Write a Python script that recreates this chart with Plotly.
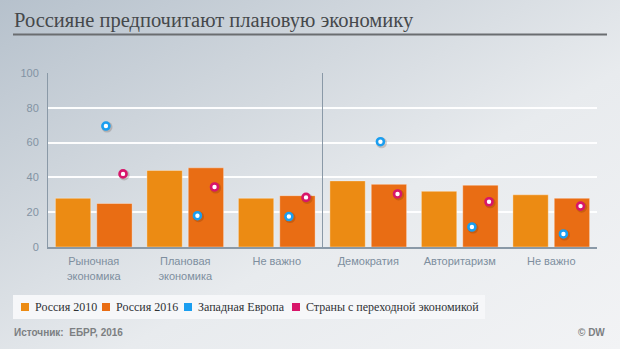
import base64
import plotly.graph_objects as go

# ---- data ----
categories = ["Рыночная<br>экономика", "Плановая<br>экономика", "Не важно",
              "Демократия", "Авторитаризм", "Не важно"]
russia_2010 = [28, 44, 28, 38, 32, 30]
russia_2016 = [25, 45.5, 29.5, 36, 35.5, 28]
west_europe = [69.5, 18, 17.5, 60.5, 11.5, 7.5]
transition = [42, 34.5, 28.5, 30.5, 26, 23.5]
y_ticks = [0, 20, 40, 60, 80, 100]
series_names = ["Россия 2010", "Россия 2016", "Западная Европа", "Страны с переходной экономикой"]

title_text = "Россияне предпочитают плановую экономику"
source_text = "Источник:  ЕБРР, 2016"
credit_text = "© DW"

# ---- layout geometry (pixels) ----
W, H = 620, 349
ML, MR, MT, MB = 48, 23, 73, 102
PW, PH = W - ML - MR, H - MT - MB

def px(x):
    return (x - ML) / PW

def py(y):
    return (H - MB - y) / PH

C2010 = "#ec8b13"
C2016 = "#e96d14"
CBLUE = "#1a9ef0"
CPINK = "#d8166a"
colors = [C2010, C2016, CBLUE, CPINK]

xpos = list(range(len(categories)))

fig = go.Figure()
fig.add_trace(go.Bar(x=xpos, y=russia_2010, name=series_names[0],
                     marker=dict(color=C2010, line=dict(color="rgba(255,255,255,0.35)", width=1)),
                     showlegend=False, hoverinfo="y"))
fig.add_trace(go.Bar(x=xpos, y=russia_2016, name=series_names[1],
                     marker=dict(color=C2016, line=dict(color="rgba(255,255,255,0.35)", width=1)),
                     showlegend=False, hoverinfo="y"))

blue_off, pink_off = 0.133, 0.32
for vals, off, col, nm in [(west_europe, blue_off, CBLUE, series_names[2]),
                           (transition, pink_off, CPINK, series_names[3])]:
    xs = [i + off for i in xpos]
    # soft shadow
    fig.add_trace(go.Scatter(x=[x + 0.012 for x in xs], y=[v - 0.6 for v in vals], mode="markers",
                             marker=dict(size=11, color="rgba(60,20,0,0.18)", line=dict(width=0)),
                             showlegend=False, hoverinfo="skip"))
    fig.add_trace(go.Scatter(x=xs, y=vals, mode="markers", name=nm,
                             marker=dict(size=7, color="white", line=dict(color=col, width=2.6)),
                             showlegend=False, hoverinfo="y"))

# background gradient
svg = f'''<svg xmlns="http://www.w3.org/2000/svg" width="{W}" height="{H}" viewBox="0 0 {W} {H}" preserveAspectRatio="none">
<defs><linearGradient id="g" x1="0" y1="0" x2="1" y2="1">
<stop offset="0" stop-color="#b6c1cc"/>
<stop offset="0.35" stop-color="#d3d9df"/>
<stop offset="0.6" stop-color="#e8ebee"/>
<stop offset="1" stop-color="#f2f3f5"/>
</linearGradient></defs>
<rect width="{W}" height="{H}" fill="url(#g)"/></svg>'''
uri = "data:image/svg+xml;base64," + base64.b64encode(svg.encode()).decode()

shapes = []
# title underline
shapes.append(dict(type="line", xref="paper", yref="paper", x0=px(13), x1=px(607), y0=py(34.5), y1=py(34.5),
                   line=dict(color="#6a6d70", width=2)))
# divider
shapes.append(dict(type="line", xref="x", yref="y", x0=2.5, x1=2.5, y0=0, y1=100,
                   line=dict(color="#8a99a7", width=1)))
# legend box
shapes.append(dict(type="rect", xref="paper", yref="paper", x0=px(13), x1=px(485), y0=py(295), y1=py(319),
                   fillcolor="#f6f7f9", line=dict(width=0), layer="below"))

annotations = []
annotations.append(dict(text=title_text, xref="paper", yref="paper", x=px(12), y=py(20.5),
                        xanchor="left", yanchor="middle", showarrow=False,
                        font=dict(family="Liberation Serif", size=20.5, color="#45484b")))
leg_sq = [21, 102, 184, 292]
leg_tx = [33, 114, 196, 304]
for i, nm in enumerate(series_names):
    shapes.append(dict(type="rect", xref="paper", yref="paper", x0=px(leg_sq[i]), x1=px(leg_sq[i] + 8),
                       y0=py(303), y1=py(311), fillcolor=colors[i], line=dict(width=0)))
    annotations.append(dict(text=nm, xref="paper", yref="paper", x=px(leg_tx[i]), y=py(307),
                            xanchor="left", yanchor="middle", showarrow=False,
                            font=dict(family="Liberation Serif", size=12, color="#2f3235")))
annotations.append(dict(text="<b>" + source_text + "</b>", xref="paper", yref="paper", x=px(12), y=py(332),
                        xanchor="left", yanchor="middle", showarrow=False,
                        font=dict(family="Liberation Sans", size=10, color="#7c7f82")))
annotations.append(dict(text="<b>" + credit_text + "</b>", xref="paper", yref="paper", x=px(607), y=py(332),
                        xanchor="right", yanchor="middle", showarrow=False,
                        font=dict(family="Liberation Sans", size=10, color="#7c7f82")))

fig.update_layout(
    width=W, height=H,
    margin=dict(l=ML, r=MR, t=MT, b=MB, pad=0),
    paper_bgcolor="#eef0f2", plot_bgcolor="rgba(0,0,0,0)",
    barmode="group", bargap=0.096, bargroupgap=0.145,
    showlegend=False,
    images=[dict(source=uri, xref="paper", yref="paper", x=px(0), y=py(0),
                 sizex=W / PW, sizey=H / PH, sizing="stretch", layer="below",
                 xanchor="left", yanchor="top")],
    shapes=shapes, annotations=annotations,
    font=dict(family="Liberation Sans"),
)
fig.update_xaxes(range=[-0.5, len(categories) - 0.5], tickmode="array", tickvals=xpos, ticktext=categories,
                 showgrid=False, zeroline=False, showline=True, linecolor="#8a99a7", linewidth=2,
                 ticks="outside", ticklen=3, tickcolor="rgba(0,0,0,0)",
                 tickfont=dict(family="Liberation Sans", size=11, color="#7d8e9e"), fixedrange=True)
fig.update_yaxes(range=[0, 100], tickmode="array", tickvals=y_ticks,
                 showgrid=True, gridcolor="rgba(255,255,255,0.95)", gridwidth=1.5, zeroline=False,
                 showline=True, linecolor="#8a99a7", linewidth=1,
                 ticks="outside", ticklen=6, tickcolor="rgba(0,0,0,0)",
                 tickfont=dict(family="Liberation Sans", size=11, color="#8393a3"), fixedrange=True)

fig.write_html("out.html", config={"displayModeBar": False})
